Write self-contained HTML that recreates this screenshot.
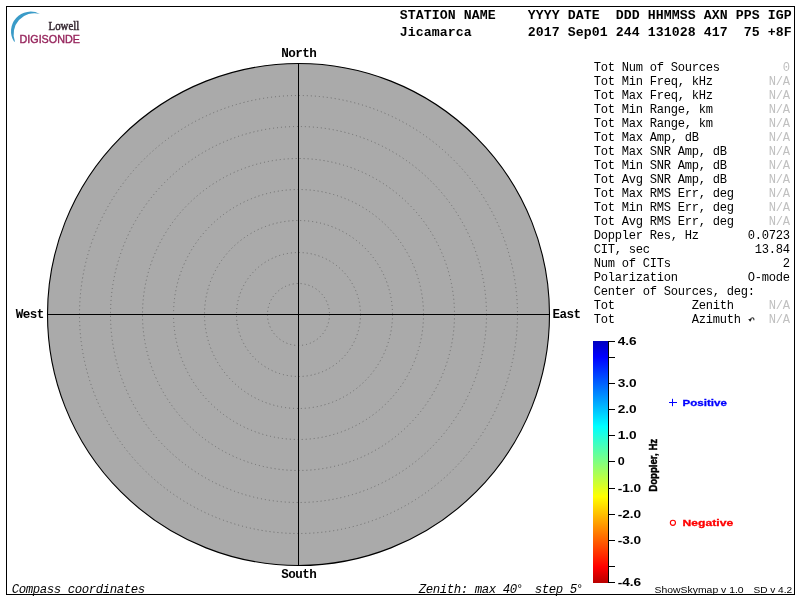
<!DOCTYPE html>
<html><head><meta charset="utf-8"><title>Skymap</title>
<style>
html,body{margin:0;padding:0;background:#fff;}
body{width:800px;height:600px;overflow:hidden;}
svg{display:block;will-change:transform;}
text{font-family:"Liberation Mono",monospace;}
.mb{font-family:"Liberation Mono",monospace;font-weight:bold;}
.mr{font-family:"Liberation Mono",monospace;}
.mi{font-family:"Liberation Mono",monospace;font-style:italic;}
.sb{font-family:"Liberation Sans",sans-serif;font-weight:bold;}
.sr{font-family:"Liberation Sans",sans-serif;}
.se{font-family:"Liberation Serif",serif;}
</style></head><body>
<svg width="800" height="600" viewBox="0 0 800 600">
<rect x="0" y="0" width="800" height="600" fill="#fff"/>
<rect x="6.5" y="6.5" width="788" height="588" fill="none" stroke="#000" stroke-width="1"/>
<path d="M14.16 41.87 A19.6 19.6 0 0 1 39.80 13.89 A20.87 20.87 0 0 0 14.92 41.38 Z" fill="#3a9bc8"/>
<text class="se" font-size="11.7" x="48.6" y="30.4" fill="#33262f" stroke="#33262f" stroke-width="0.45" textLength="30.6" lengthAdjust="spacingAndGlyphs">Lowell</text>
<text class="sr" font-size="11.4" x="19.5" y="43.0" fill="#96245c" stroke="#96245c" stroke-width="0.4" textLength="60.4" lengthAdjust="spacingAndGlyphs">DIGISONDE</text>
<circle cx="298.5" cy="314.5" r="251" fill="#aaaaaa" stroke="#000" stroke-width="1.1"/>
<circle cx="298.5" cy="314.5" r="31.00" fill="none" stroke="#6c6c6c" stroke-width="1" stroke-dasharray="1 3"/>
<circle cx="298.5" cy="314.5" r="62.00" fill="none" stroke="#6c6c6c" stroke-width="1" stroke-dasharray="1 3"/>
<circle cx="298.5" cy="314.5" r="94.00" fill="none" stroke="#6c6c6c" stroke-width="1" stroke-dasharray="1 3"/>
<circle cx="298.5" cy="314.5" r="125.00" fill="none" stroke="#6c6c6c" stroke-width="1" stroke-dasharray="1 3"/>
<circle cx="298.5" cy="314.5" r="156.00" fill="none" stroke="#6c6c6c" stroke-width="1" stroke-dasharray="1 3"/>
<circle cx="298.5" cy="314.5" r="188.00" fill="none" stroke="#6c6c6c" stroke-width="1" stroke-dasharray="1 3"/>
<circle cx="298.5" cy="314.5" r="219.00" fill="none" stroke="#6c6c6c" stroke-width="1" stroke-dasharray="1 3"/>
<rect x="298" y="63" width="1" height="503" fill="#000"/>
<rect x="47" y="314" width="503" height="1" fill="#000"/>
<text class="mb" text-anchor="middle" font-size="12.6" y="56.8" x="285 292 299 306 313">North</text>
<text class="mb" text-anchor="middle" font-size="12.6" y="578" x="285 292 299 306 313">South</text>
<text class="mb" text-anchor="middle" font-size="12.6" y="318" x="19.5 26.5 33.5 40.5">West</text>
<text class="mb" text-anchor="middle" font-size="12.6" y="318" x="556.3 563.3 570.3 577.3">East</text>
<text class="mb" text-anchor="middle" font-size="13.2" y="19" x="403.6 411.6 419.6 427.6 435.6 443.6 451.6 467.6 475.6 483.6 491.6 531.6 539.6 547.6 555.6 571.6 579.6 587.6 595.6 619.6 627.6 635.6 651.6 659.6 667.6 675.6 683.6 691.6 707.6 715.6 723.6 739.6 747.6 755.6 771.6 779.6 787.6">STATIONNAMEYYYYDATEDDDHHMMSSAXNPPSIGP</text>
<text class="mb" text-anchor="middle" font-size="13.2" y="35.7" x="403.6 411.6 419.6 427.6 435.6 443.6 451.6 459.6 467.6 531.6 539.6 547.6 555.6 571.6 579.6 587.6 595.6 603.6 619.6 627.6 635.6 651.6 659.6 667.6 675.6 683.6 691.6 707.6 715.6 723.6 747.6 755.6 771.6 779.6 787.6">Jicamarca2017Sep0124413102841775+8F</text>
<text class="mr" text-anchor="middle" font-size="12.1" y="70.7" x="597.5 604.5 611.5 625.5 632.5 639.5 653.5 660.5 674.5 681.5 688.5 695.5 702.5 709.5 716.5">TotNumofSources</text>
<text class="mr" text-anchor="middle" font-size="12.1" y="70.7" fill="#c0c0c0" x="786.5">0</text>
<text class="mr" text-anchor="middle" font-size="12.1" y="84.7" x="597.5 604.5 611.5 625.5 632.5 639.5 653.5 660.5 667.5 674.5 681.5 695.5 702.5 709.5">TotMinFreq,kHz</text>
<text class="mr" text-anchor="middle" font-size="12.1" y="84.7" fill="#c0c0c0" x="772.5 779.5 786.5">N/A</text>
<text class="mr" text-anchor="middle" font-size="12.1" y="98.7" x="597.5 604.5 611.5 625.5 632.5 639.5 653.5 660.5 667.5 674.5 681.5 695.5 702.5 709.5">TotMaxFreq,kHz</text>
<text class="mr" text-anchor="middle" font-size="12.1" y="98.7" fill="#c0c0c0" x="772.5 779.5 786.5">N/A</text>
<text class="mr" text-anchor="middle" font-size="12.1" y="112.7" x="597.5 604.5 611.5 625.5 632.5 639.5 653.5 660.5 667.5 674.5 681.5 688.5 702.5 709.5">TotMinRange,km</text>
<text class="mr" text-anchor="middle" font-size="12.1" y="112.7" fill="#c0c0c0" x="772.5 779.5 786.5">N/A</text>
<text class="mr" text-anchor="middle" font-size="12.1" y="126.7" x="597.5 604.5 611.5 625.5 632.5 639.5 653.5 660.5 667.5 674.5 681.5 688.5 702.5 709.5">TotMaxRange,km</text>
<text class="mr" text-anchor="middle" font-size="12.1" y="126.7" fill="#c0c0c0" x="772.5 779.5 786.5">N/A</text>
<text class="mr" text-anchor="middle" font-size="12.1" y="140.7" x="597.5 604.5 611.5 625.5 632.5 639.5 653.5 660.5 667.5 674.5 688.5 695.5">TotMaxAmp,dB</text>
<text class="mr" text-anchor="middle" font-size="12.1" y="140.7" fill="#c0c0c0" x="772.5 779.5 786.5">N/A</text>
<text class="mr" text-anchor="middle" font-size="12.1" y="154.7" x="597.5 604.5 611.5 625.5 632.5 639.5 653.5 660.5 667.5 681.5 688.5 695.5 702.5 716.5 723.5">TotMaxSNRAmp,dB</text>
<text class="mr" text-anchor="middle" font-size="12.1" y="154.7" fill="#c0c0c0" x="772.5 779.5 786.5">N/A</text>
<text class="mr" text-anchor="middle" font-size="12.1" y="168.7" x="597.5 604.5 611.5 625.5 632.5 639.5 653.5 660.5 667.5 681.5 688.5 695.5 702.5 716.5 723.5">TotMinSNRAmp,dB</text>
<text class="mr" text-anchor="middle" font-size="12.1" y="168.7" fill="#c0c0c0" x="772.5 779.5 786.5">N/A</text>
<text class="mr" text-anchor="middle" font-size="12.1" y="182.7" x="597.5 604.5 611.5 625.5 632.5 639.5 653.5 660.5 667.5 681.5 688.5 695.5 702.5 716.5 723.5">TotAvgSNRAmp,dB</text>
<text class="mr" text-anchor="middle" font-size="12.1" y="182.7" fill="#c0c0c0" x="772.5 779.5 786.5">N/A</text>
<text class="mr" text-anchor="middle" font-size="12.1" y="196.7" x="597.5 604.5 611.5 625.5 632.5 639.5 653.5 660.5 667.5 681.5 688.5 695.5 702.5 716.5 723.5 730.5">TotMaxRMSErr,deg</text>
<text class="mr" text-anchor="middle" font-size="12.1" y="196.7" fill="#c0c0c0" x="772.5 779.5 786.5">N/A</text>
<text class="mr" text-anchor="middle" font-size="12.1" y="210.7" x="597.5 604.5 611.5 625.5 632.5 639.5 653.5 660.5 667.5 681.5 688.5 695.5 702.5 716.5 723.5 730.5">TotMinRMSErr,deg</text>
<text class="mr" text-anchor="middle" font-size="12.1" y="210.7" fill="#c0c0c0" x="772.5 779.5 786.5">N/A</text>
<text class="mr" text-anchor="middle" font-size="12.1" y="224.7" x="597.5 604.5 611.5 625.5 632.5 639.5 653.5 660.5 667.5 681.5 688.5 695.5 702.5 716.5 723.5 730.5">TotAvgRMSErr,deg</text>
<text class="mr" text-anchor="middle" font-size="12.1" y="224.7" fill="#c0c0c0" x="772.5 779.5 786.5">N/A</text>
<text class="mr" text-anchor="middle" font-size="12.1" y="238.7" x="597.5 604.5 611.5 618.5 625.5 632.5 639.5 653.5 660.5 667.5 674.5 688.5 695.5">DopplerRes,Hz</text>
<text class="mr" text-anchor="middle" font-size="12.1" y="238.7" fill="#000" x="751.5 758.5 765.5 772.5 779.5 786.5">0.0723</text>
<text class="mr" text-anchor="middle" font-size="12.1" y="252.7" x="597.5 604.5 611.5 618.5 632.5 639.5 646.5">CIT,sec</text>
<text class="mr" text-anchor="middle" font-size="12.1" y="252.7" fill="#000" x="758.5 765.5 772.5 779.5 786.5">13.84</text>
<text class="mr" text-anchor="middle" font-size="12.1" y="266.7" x="597.5 604.5 611.5 625.5 632.5 646.5 653.5 660.5 667.5">NumofCITs</text>
<text class="mr" text-anchor="middle" font-size="12.1" y="266.7" fill="#000" x="786.5">2</text>
<text class="mr" text-anchor="middle" font-size="12.1" y="280.7" x="597.5 604.5 611.5 618.5 625.5 632.5 639.5 646.5 653.5 660.5 667.5 674.5">Polarization</text>
<text class="mr" text-anchor="middle" font-size="12.1" y="280.7" fill="#000" x="751.5 758.5 765.5 772.5 779.5 786.5">O-mode</text>
<text class="mr" text-anchor="middle" font-size="12.1" y="294.7" x="597.5 604.5 611.5 618.5 625.5 632.5 646.5 653.5 667.5 674.5 681.5 688.5 695.5 702.5 709.5 716.5 730.5 737.5 744.5 751.5">CenterofSources,deg:</text>
<text class="mr" text-anchor="middle" font-size="12.1" y="308.7" x="597.5 604.5 611.5 695.5 702.5 709.5 716.5 723.5 730.5">TotZenith</text>
<text class="mr" text-anchor="middle" font-size="12.1" y="308.7" fill="#c0c0c0" x="772.5 779.5 786.5">N/A</text>
<text class="mr" text-anchor="middle" font-size="12.1" y="322.7" x="597.5 604.5 611.5 695.5 702.5 709.5 716.5 723.5 730.5 737.5">TotAzimuth</text>
<text class="mr" text-anchor="middle" font-size="12.1" y="322.7" fill="#c0c0c0" x="772.5 779.5 786.5">N/A</text>
<path d="M750.3 320.2 C750.8 317 754.3 316.8 753.9 320.2" fill="none" stroke="#333" stroke-width="1.1"/>
<path d="M748.2 319 L750.2 321.7 L751.7 319.3 Z" fill="#111"/>
<defs><linearGradient id="cb" x1="0" y1="0" x2="0" y2="1">
<stop offset="0" stop-color="#0000be"/>
<stop offset="0.066" stop-color="#0000ff"/>
<stop offset="0.353" stop-color="#00ffff"/>
<stop offset="0.5" stop-color="#80ff80"/>
<stop offset="0.643" stop-color="#ffff00"/>
<stop offset="0.934" stop-color="#ff0000"/>
<stop offset="1" stop-color="#b80000"/>
</linearGradient></defs>
<rect x="593" y="341" width="15" height="242" fill="url(#cb)"/>
<rect x="608" y="341" width="1" height="242" fill="#000"/>
<rect x="609" y="341" width="6" height="1" fill="#000"/>
<text class="sb" font-size="11.5" x="617.7" y="344.6" textLength="19" lengthAdjust="spacingAndGlyphs">4.6</text>
<rect x="609" y="357" width="6" height="1" fill="#000"/>
<rect x="609" y="383" width="6" height="1" fill="#000"/>
<text class="sb" font-size="11.5" x="617.7" y="386.6" textLength="19" lengthAdjust="spacingAndGlyphs">3.0</text>
<rect x="609" y="409" width="6" height="1" fill="#000"/>
<text class="sb" font-size="11.5" x="617.7" y="412.6" textLength="19" lengthAdjust="spacingAndGlyphs">2.0</text>
<rect x="609" y="435" width="6" height="1" fill="#000"/>
<text class="sb" font-size="11.5" x="617.7" y="438.6" textLength="19" lengthAdjust="spacingAndGlyphs">1.0</text>
<rect x="609" y="461" width="6" height="1" fill="#000"/>
<text class="sb" font-size="11.5" x="617.7" y="464.6" textLength="7" lengthAdjust="spacingAndGlyphs">0</text>
<rect x="609" y="488" width="6" height="1" fill="#000"/>
<text class="sb" font-size="11.5" x="617.7" y="491.6" textLength="23.5" lengthAdjust="spacingAndGlyphs">-1.0</text>
<rect x="609" y="514" width="6" height="1" fill="#000"/>
<text class="sb" font-size="11.5" x="617.7" y="517.6" textLength="23.5" lengthAdjust="spacingAndGlyphs">-2.0</text>
<rect x="609" y="540" width="6" height="1" fill="#000"/>
<text class="sb" font-size="11.5" x="617.7" y="543.6" textLength="23.5" lengthAdjust="spacingAndGlyphs">-3.0</text>
<rect x="609" y="566" width="6" height="1" fill="#000"/>
<rect x="609" y="582" width="6" height="1" fill="#000"/>
<text class="sb" font-size="11.5" x="617.7" y="585.6" textLength="23.5" lengthAdjust="spacingAndGlyphs">-4.6</text>
<text class="sb" font-size="10" transform="translate(657.1,491.8) rotate(-90)" stroke="#000" stroke-width="0.45" textLength="53" lengthAdjust="spacingAndGlyphs">Doppler, Hz</text>
<rect x="669" y="402" width="8" height="1" fill="#0000ff"/>
<rect x="672" y="398.8" width="1" height="7.4" fill="#0000ff"/>
<text class="sb" font-size="9.9" x="682.6" y="406.2" fill="#0000ff" stroke="#0000ff" stroke-width="0.3" textLength="44.3" lengthAdjust="spacingAndGlyphs">Positive</text>
<circle cx="672.9" cy="522.75" r="2.55" fill="none" stroke="#ff0000" stroke-width="1.15"/>
<text class="sb" font-size="9.9" x="682.6" y="526.2" fill="#ff0000" stroke="#ff0000" stroke-width="0.3" textLength="50.6" lengthAdjust="spacingAndGlyphs">Negative</text>
<text class="mi" text-anchor="middle" font-size="12.4" y="592.5" x="15.5 22.5 29.5 36.5 43.5 50.5 57.5 71.5 78.5 85.5 92.5 99.5 106.5 113.5 120.5 127.5 134.5 141.5">Compasscoordinates</text>
<text class="mi" text-anchor="middle" font-size="12.4" y="592.5" x="422.5 429.5 436.5 443.5 450.5 457.5 464.5 478.5 485.5 492.5 506.5 513.5">Zenith:max40</text>
<text class="mi" font-size="11.5" x="516.2" y="592">°</text>
<text class="mi" text-anchor="middle" font-size="12.4" y="592.5" x="538.5 545.5 552.5 559.5 573.5">step5</text>
<text class="mi" font-size="11.5" x="576.2" y="592">°</text>
<text class="sr" font-size="9.7" x="654.6" y="592.6" textLength="89" lengthAdjust="spacingAndGlyphs">ShowSkymap v 1.0</text>
<text class="sr" font-size="9.7" x="753.4" y="592.6" textLength="38.8" lengthAdjust="spacingAndGlyphs">SD v 4.2</text>
</svg></body></html>
